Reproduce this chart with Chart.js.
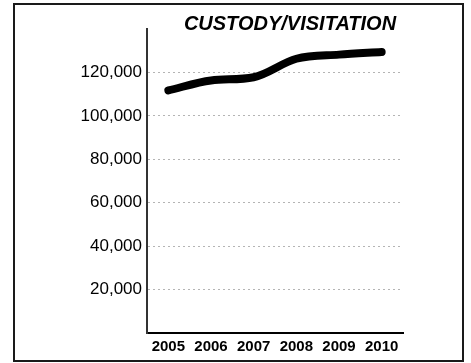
<!DOCTYPE html>
<html>
<head>
<meta charset="utf-8">
<script src="https://cdn.jsdelivr.net/npm/chart.js@4/dist/chart.umd.min.js"></script>
<style>
  html, body { margin: 0; padding: 0; background: #fff; }
  #wrap { width: 471px; height: 363px; position: relative; }
</style>
</head>
<body>
<div id="wrap"><canvas id="c" width="471" height="363"></canvas></div>
<script>
// Annual custody/visitation filings
const years = ['2005', '2006', '2007', '2008', '2009', '2010'];
const filings = [111700, 116300, 117800, 126300, 128200, 129400];
const yTickValues = [20000, 40000, 60000, 80000, 100000, 120000];
const chartTitle = 'CUSTODY/VISITATION';

const framePlugin = {
  id: 'frame',
  beforeDraw(chart) {
    const ctx = chart.ctx;
    ctx.save();
    ctx.fillStyle = '#fff';
    ctx.fillRect(0, 0, chart.width, chart.height);
    ctx.strokeStyle = '#1a1a1a';
    ctx.lineWidth = 2;
    ctx.strokeRect(14, 4, 449, 357);
    ctx.restore();
  },
  afterDraw(chart) {
    const ctx = chart.ctx;
    ctx.save();
    ctx.fillStyle = '#000';
    ctx.font = 'italic bold 20px "Liberation Sans", Arial, sans-serif';
    ctx.textAlign = 'center';
    ctx.textBaseline = 'alphabetic';
    ctx.fillText(chartTitle, 290, 30);
    ctx.restore();
  }
};

new Chart(document.getElementById('c'), {
  type: 'line',
  data: {
    labels: years,
    datasets: [{
      data: filings,
      borderColor: '#000',
      borderWidth: 8,
      borderCapStyle: 'round',
      borderJoinStyle: 'round',
      pointRadius: 0,
      cubicInterpolationMode: 'monotone',
      fill: false
    }]
  },
  options: {
    responsive: false,
    animation: false,
    layout: { padding: { left: 14, right: 68, top: 29, bottom: 0 } },
    plugins: { legend: { display: false }, title: { display: false }, tooltip: { enabled: false } },
    scales: {
      x: {
        offset: true,
        afterFit(scale) { scale.height = 30; },
        grid: { display: false, drawTicks: false },
        border: { display: true, color: '#000', width: 2 },
        ticks: {
          color: '#000',
          padding: 5,
          maxRotation: 0,
          font: { family: '"Liberation Sans", Arial, sans-serif', size: 15, weight: 'bold' }
        }
      },
      y: {
        min: 0,
        max: 140000,
        afterFit(scale) { scale.width = 133; },
        afterBuildTicks(scale) { scale.ticks = yTickValues.map(v => ({ value: v })); },
        grid: {
          drawTicks: false,
          color: '#b4b4b4',
          lineWidth: 1
        },
        // dotted horizontal guide lines
        border: { display: true, color: '#333', width: 2, dash: [2, 3] },
        ticks: {
          color: '#000',
          padding: 5,
          font: { family: '"Liberation Sans", Arial, sans-serif', size: 17 },
          callback: v => v.toLocaleString('en-US')
        }
      }
    }
  },
  plugins: [framePlugin]
});
</script>
</body>
</html>
